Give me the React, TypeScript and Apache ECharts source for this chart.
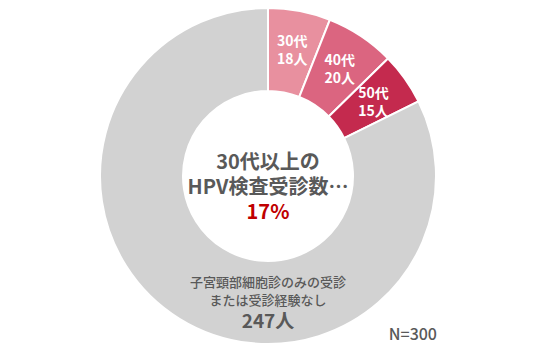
import React, { useEffect, useRef } from "react";
import * as echarts from "echarts";

const categories = ["30代", "40代", "50代", "その他"];
const values = [18, 20, 15, 247];
const colors = ["#E8909F", "#DB6580", "#C42A4E", "#D2D2D2"];
const total = 300;
const centerLines = ["30代以上の", "HPV検査受診数…"];
const centerPct = "17%";
const otherLines = ["子宮頸部細胞診のみの受診", "または受診経験なし"];

export default function App() {
  const ref = useRef<HTMLDivElement>(null);
  useEffect(() => {
    const chart = echarts.init(ref.current!, null, { renderer: "svg" });
    const font = "'Noto Sans CJK JP', 'Noto Sans', sans-serif";
    const txt = (text: string, x: number, y: number, f: string, fill: string, align = "center") => ({
      type: "text",
      z: 100,
      style: { text, x, y, align, verticalAlign: "middle", font: f, fill },
    });
    chart.setOption({
      animation: false,
      series: [
        {
          type: "pie",
          center: [268, 176],
          radius: [85, 168],
          startAngle: 90,
          clockwise: true,
          avoidLabelOverlap: false,
          itemStyle: { borderColor: "#fff", borderWidth: 2 },
          label: {
            show: true,
            position: "inside",
            color: "#fff",
            fontSize: 14,
            fontWeight: "bold",
            fontFamily: font,
            lineHeight: 18,
            formatter: (p: any) => `${p.name}\n${p.value}人`,
          },
          labelLine: { show: false },
          emphasis: { disabled: true },
          data: categories.map((c, i) => ({
            name: c,
            value: values[i],
            itemStyle: { color: colors[i] },
            label: { show: i < 3 },
          })),
        },
      ],
      graphic: {
        elements: [
          txt(centerLines[0], 268, 160, `bold 20px ${font}`, "#595959"),
          txt(centerLines[1], 268, 185, `bold 20px ${font}`, "#595959"),
          txt(centerPct, 268, 210, `bold 20px ${font}`, "#C00000"),
          txt(otherLines[0], 268, 281, `500 13px ${font}`, "#595959"),
          txt(otherLines[1], 268, 299, `500 13px ${font}`, "#595959"),
          txt(`${values[3]}人`, 268, 319, `bold 19px ${font}`, "#595959"),
          txt(`N=${total}`, 437, 333, `500 16px ${font}`, "#595959", "right"),
        ],
      },
    });
    return () => chart.dispose();
  }, []);
  return (
    <div
      ref={ref}
      style={{ position: "fixed", left: 0, top: 0, width: 536, height: 357, background: "#fff" }}
    />
  );
}
